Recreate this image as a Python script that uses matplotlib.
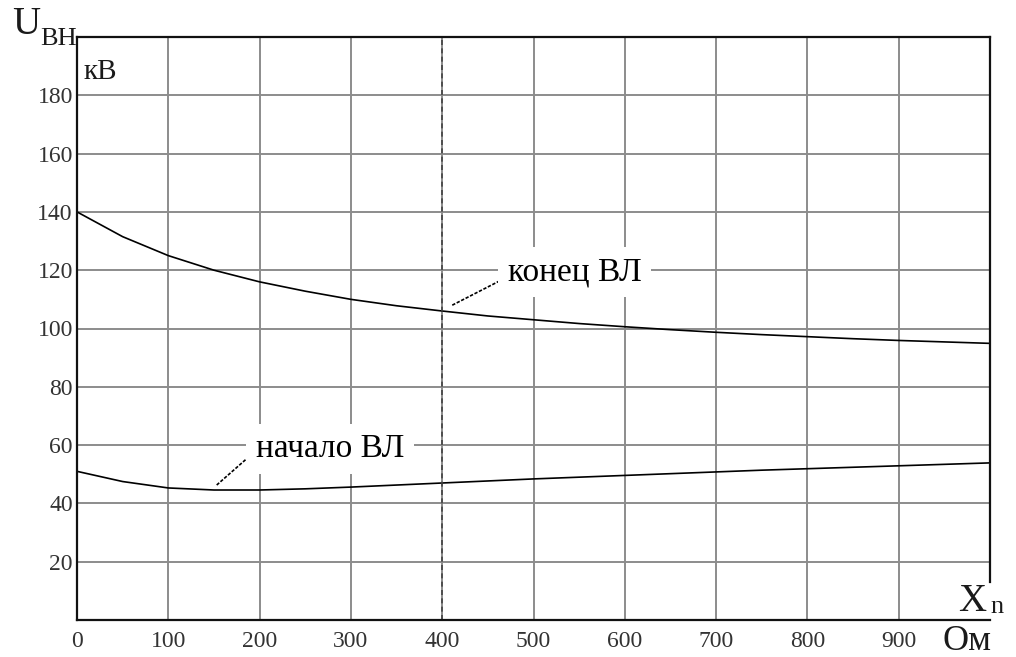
import matplotlib
matplotlib.use("Agg")
import matplotlib.pyplot as plt

# данные
x_om = [0, 50, 100, 150, 200, 250, 300, 350, 400, 450, 500,
        550, 600, 650, 700, 750, 800, 850, 900, 950, 1000]
u_konec = [140, 131.5, 125, 120, 116, 112.8, 110, 107.8, 106, 104.3, 103,
           101.7, 100.6, 99.6, 98.7, 97.9, 97.2, 96.5, 95.9, 95.4, 94.9]
u_nachalo = [51, 47.5, 45.3, 44.6, 44.6, 45, 45.6, 46.3, 47, 47.7, 48.4,
             49, 49.6, 50.2, 50.8, 51.4, 51.9, 52.4, 52.9, 53.4, 53.9]
x_ticks = [0, 100, 200, 300, 400, 500, 600, 700, 800, 900]
y_ticks = [20, 40, 60, 80, 100, 120, 140, 160, 180]
x_marker = 400

plt.rcParams['font.family'] = ['Liberation Serif', 'DejaVu Serif']

fig = plt.figure(figsize=(10.16, 6.57), dpi=100)
ax = fig.add_axes([0.0758, 0.0563, 0.8986, 0.8874])

ax.plot(x_om, u_konec, color='black', lw=1.2)
ax.plot(x_om, u_nachalo, color='black', lw=1.2)
ax.axvline(x_marker, color='#444444', lw=1.2, ls=(0, (3, 2)))

ax.set_xlim(0, 1000)
ax.set_ylim(0, 200)
ax.set_xticks(x_ticks)
ax.set_yticks(y_ticks)
ax.tick_params(length=0, labelsize=17, labelcolor='#333333')
ax.tick_params(axis='x', pad=8)
ax.tick_params(axis='y', pad=3)
ax.grid(True, color='#8c8c8c', lw=1.4)
ax.set_axisbelow(True)
for s in ax.spines.values():
    s.set_linewidth(1.6)
    s.set_color('#111111')
# правая рамка обрывается над подписью X_n
ax.spines['right'].set_bounds(13, 200)

# подписи кривых
box = dict(facecolor='white', edgecolor='none', pad=7)
ax.text(472, 119.4, 'конец ВЛ', fontsize=24, va='center', ha='left', bbox=box)
ax.plot([411, 464], [108, 116.5], color='black', lw=1.2, ls=(0, (2, 1)))
ax.text(196, 58.7, 'начало ВЛ', fontsize=24, va='center', ha='left', bbox=box)
ax.plot([153, 193], [46.3, 57.3], color='black', lw=1.2, ls=(0, (2, 1)))

# подписи осей
fig.text(12 / 1016, 1 - 34 / 657, 'U', fontsize=28, color='#1a1a1a')
fig.text(40 / 1016, 1 - 45 / 657, 'ВН', fontsize=19, color='#1a1a1a')
ax.text(0.007, 0.963, 'кВ', transform=ax.transAxes, fontsize=21,
        va='top', ha='left', color='#1a1a1a')
fig.text(958 / 1016, 1 - 611 / 657, 'X', fontsize=28, color='#1a1a1a')
fig.text(990 / 1016, 1 - 613 / 657, 'n', fontsize=19, color='#1a1a1a')
fig.text(943 / 1016, 1 - 650 / 657, 'Ом', fontsize=26, color='#1a1a1a')

fig.savefig('out.png', dpi=100)
